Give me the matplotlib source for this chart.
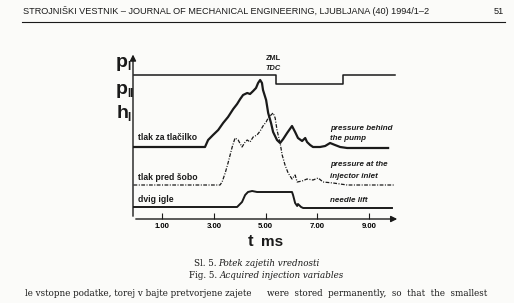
import matplotlib.pyplot as plt

plt.rcParams['font.family'] = ['Liberation Sans', 'DejaVu Sans']

# time axis in ms, signals in arbitrary units
t_tdc = [-0.1, 5.4, 5.4, 8.0, 8.0, 10.0]
v_tdc = [144, 144, 135, 135, 144, 144]

t_pump = [-0.1, 2.66, 2.78, 2.97, 3.17, 3.36, 3.55, 3.75, 3.90, 4.02, 4.13, 4.29, 4.40,
          4.52, 4.63, 4.71, 4.79, 4.86, 4.90, 5.02, 5.10, 5.21, 5.29, 5.44, 5.56, 5.68,
          5.83, 6.02, 6.14, 6.25, 6.41, 6.53, 6.60, 6.72, 6.83, 7.10, 7.30, 7.49, 7.68,
          7.88, 8.15, 8.65, 9.73]
v_pump = [72, 72, 79, 84, 89, 96, 102, 110, 115, 120, 124, 126, 125,
          128, 131, 136, 139, 136, 129, 119, 106, 96, 87, 79, 76, 80,
          86, 93, 87, 81, 78, 81, 77, 74, 72, 72, 73, 76, 74,
          72, 71, 71, 71]

t_inj = [-0.1, 3.24, 3.32, 3.44, 3.55, 3.63, 3.71, 3.82, 3.94, 4.09, 4.21, 4.29, 4.40,
         4.52, 4.67, 4.79, 4.90, 5.02, 5.10, 5.21, 5.29, 5.37, 5.44, 5.56, 5.64, 5.75,
         5.87, 6.02, 6.14, 6.22, 6.41, 6.60, 6.83, 7.03, 7.22, 7.61, 8.15, 8.92, 10.0]
v_inj = [34, 34, 37, 46, 56, 64, 72, 81, 79, 72, 77, 79, 77,
         82, 84, 88, 93, 97, 101, 104, 106, 101, 89, 76, 64, 54,
         46, 40, 44, 37, 38, 40, 39, 41, 37, 36, 34, 34, 34]

t_needle = [-0.1, 3.90, 4.09, 4.21, 4.32, 4.48, 4.67, 6.02, 6.06, 6.14, 6.22, 6.25,
            6.37, 6.45, 9.88]
v_needle = [12, 12, 17, 24, 27, 28, 27, 27, 24, 16, 13, 15, 12, 11, 11]

xticks = [1, 3, 5, 7, 9]

W, H = 514, 303
fig = plt.figure(figsize=(W / 100, H / 100), dpi=100)
fig.patch.set_facecolor('#fbfbf9')

# chart area in pixels: x 133..400, y 219 (bottom) .. 55 (top)
ax = fig.add_axes([133 / W, (H - 219) / H, (400 - 133) / W, (219 - 55) / H])
ax.set_facecolor('none')
ax.set_xlim(-0.12, 10.19)
ax.set_ylim(0, 164)
for s in ax.spines.values():
    s.set_visible(False)

ink = '#1a1a1a'
ax.plot(t_tdc, v_tdc, color=ink, lw=1.1)
ax.plot(t_pump, v_pump, color=ink, lw=1.6)
ax.plot(t_inj, v_inj, color=ink, lw=0.9, dashes=(3, 1.2, 0.8, 1.2))
ax.plot(t_needle, v_needle, color=ink, lw=1.4)

# axes with arrows
ax.annotate('', xy=(1, 0), xytext=(0, 0), xycoords='axes fraction',
            arrowprops=dict(arrowstyle='-|>', color=ink, lw=1.0, mutation_scale=9))
ax.annotate('', xy=(0, 1.02), xytext=(0, 0), xycoords='axes fraction',
            arrowprops=dict(arrowstyle='-|>', color=ink, lw=1.0, mutation_scale=9))

ax.set_yticks([])
ax.set_xticks(xticks)
ax.set_xticklabels(['%.2f' % v for v in xticks], fontsize=5.6, fontweight='bold')
ax.tick_params(axis='x', direction='in', length=4, width=0.8, color=ink, pad=3)

# labels inside the chart
def lab(x, y, s, **kw):
    fig.text(x / W, 1 - y / H, s, color=ink, **kw)

# signal symbols with subscripts
lab(116, 67, 'p', fontsize=14, fontweight='bold', va='baseline')
lab(127.5, 70, 'I', fontsize=8.5, fontweight='bold', va='baseline')
lab(116, 94, 'p', fontsize=14, fontweight='bold', va='baseline')
lab(127.5, 97, 'II', fontsize=8.5, fontweight='bold', va='baseline')
lab(117, 118, 'h', fontsize=14, fontweight='bold', va='baseline')
lab(127.5, 121, 'I', fontsize=8.5, fontweight='bold', va='baseline')

lab(266, 59, 'ZML', fontsize=5.3, fontweight='bold', va='center')
lab(265, 69, 'TDC', fontsize=5.3, fontweight='bold', style='italic', va='center')
lab(138, 137, 'tlak za tlačilko', fontsize=6.2, fontweight='bold', va='center')
lab(138, 178, 'tlak pred šobo', fontsize=6.2, fontweight='bold', va='center')
lab(138, 200, 'dvig igle', fontsize=6.2, fontweight='bold', va='center')
lab(330, 128, 'pressure behind', fontsize=5.8, fontweight='bold', style='italic', va='center')
lab(330, 139, 'the pump', fontsize=5.8, fontweight='bold', style='italic', va='center')
lab(330, 165, 'pressure at the', fontsize=5.8, fontweight='bold', style='italic', va='center')
lab(330, 176, 'injector inlet', fontsize=5.8, fontweight='bold', style='italic', va='center')
lab(330, 200, 'needle lift', fontsize=5.8, fontweight='bold', style='italic', va='center')
lab(248, 241, 't', fontsize=12, fontweight='bold', va='center')
lab(261, 242, 'ms', fontsize=11, fontweight='bold', va='center')

# page header, caption and body text
lab(23, 11, 'STROJNIŠKI VESTNIK – JOURNAL OF MECHANICAL ENGINEERING, LJUBLJANA (40) 1994/1–2',
    fontsize=6.55, va='center')
lab(494, 11, '51', fontsize=6.55, va='center')
fig.add_artist(plt.Line2D([22 / W, 505 / W], [1 - 22 / H, 1 - 22 / H], color=ink, lw=0.8))

serif = ['DejaVu Serif']
lab(194, 263, 'Sl. 5. ', fontsize=6.3, family=serif, va='center')
lab(218, 263, 'Potek zajetih vrednosti', fontsize=6.3, family=serif, style='italic', va='center')
lab(189, 276, 'Fig. 5. ', fontsize=6.3, family=serif, va='center')
lab(220, 276, 'Acquired injection variables', fontsize=6.3, family=serif, style='italic', va='center')
lab(25, 294, 'le vstopne podatke, torej v bajte pretvorjene zajete', fontsize=6.3,
    family=serif, va='center')
lab(267, 294, 'were  stored  permanently,  so  that  the  smallest', fontsize=6.3,
    family=serif, va='center')

fig.savefig('out.png', dpi=100)
